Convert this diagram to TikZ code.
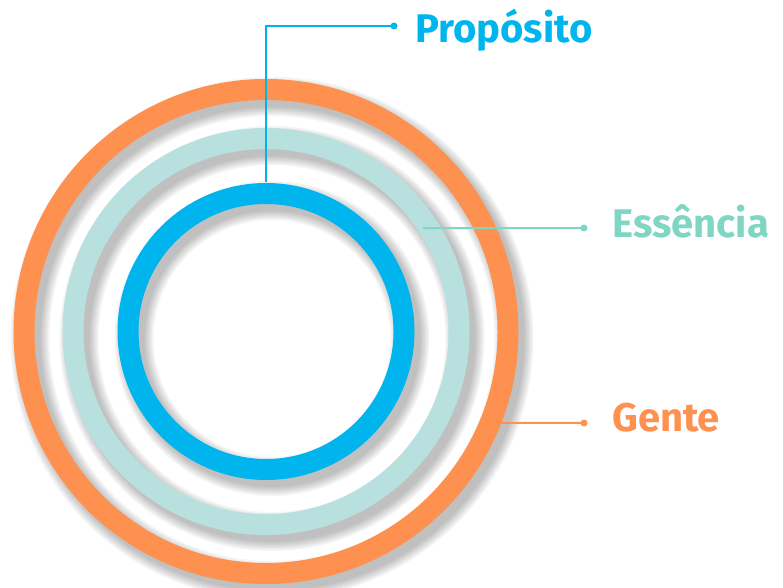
\documentclass[tikz,border=0pt]{standalone}
\usepackage{fontspec}
\setmainfont{Fira Sans}
\usetikzlibrary{calc}
\definecolor{ringblue}{HTML}{00B5EE}
\definecolor{ringteal}{HTML}{B8E0DE}
\definecolor{textteal}{HTML}{80D6C4}
\definecolor{ringorange}{HTML}{FF9150}
\tikzset{
  ring/.style={line width=21pt},
  lead/.style={line width=2pt},
  tag/.style={anchor=base west,inner sep=0pt,font=\fontsize{40}{40}\selectfont\bfseries},
}
\begin{document}
\begin{tikzpicture}[x=1pt,y=1pt]
  \useasboundingbox (0,0) rectangle (783,587);
  \coordinate (c) at (266,255.5);
  %%% the rings, outer to inner
  % each one with a soft shadow, shifted down right
  \foreach \r/\col in {242/ringorange,193/ringteal,138/ringblue}
  {
    \foreach \w in {18,15,...,0}
      \draw[black,opacity=0.04,line width=21pt+\w pt] ($(c)+(6,-7)$) circle (\r pt);
    \draw[ring,\col] (c) circle (\r pt);
  }
  %%% the labels
  % Propósito
  \coordinate (ptop) at ($(c)+(90:149)$);
  \coordinate (pdot) at (394,561);
  \node[tag,ringblue] (proposito) at (415,544) {Propósito};
  \draw[lead,ringblue] (ptop) |- (pdot);
  \fill[ringblue] (pdot) circle (3.5pt);
  % Essência
  \coordinate (estart) at ($(c)+(33.4:188)$);
  \coordinate (edot) at (584,359);
  \node[tag,textteal] (essencia) at (612,349) {Essência};
  \draw[lead,textteal] (estart) -- (edot);
  \fill[textteal] (edot) circle (3.5pt);
  % Gente
  \coordinate (gstart) at ($(c)+(-21.2:252.5)$);
  \coordinate (gdot) at (584,164);
  \node[tag,ringorange] (gente) at (612,156) {Gente};
  \draw[lead,ringorange] (gstart) -- (gdot);
  \fill[ringorange] (gdot) circle (3.5pt);
\end{tikzpicture}
\end{document}
